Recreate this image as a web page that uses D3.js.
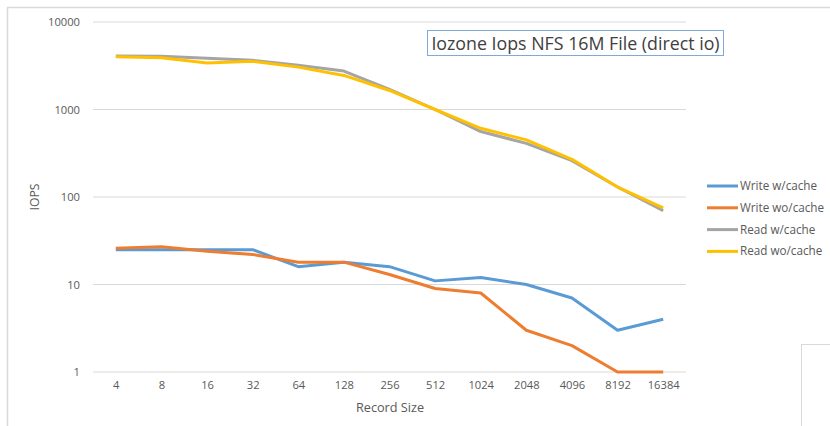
<!DOCTYPE html>
<html><head><meta charset="utf-8">
<script src="https://cdn.jsdelivr.net/npm/d3@7"></script>
<style>body{margin:0;background:#fff;} svg{display:block;font-family:"Open Sans",Lato,sans-serif;}</style>
</head><body>
<svg id="c" width="830" height="426"></svg>
<script>
const categories = ["4","8","16","32","64","128","256","512","1024","2048","4096","8192","16384"];
const writeWithCache = [25,25,25,25,16,18,16,11,12,10,7,3,4];
const writeWithoutCache = [26,27,24,22,18,18,13,9,8,3,2,1,1];
const readWithCache = [4100,4050,3850,3650,3200,2750,1700,1000,560,410,260,130,70];
const readWithoutCache = [4000,3900,3400,3550,3050,2450,1650,1000,610,450,270,130,75];
const yTicks = [1,10,100,1000,10000];
const seriesNames = ["Write w/cache","Write wo/cache","Read w/cache","Read wo/cache"];
const seriesColors = ["#5b9bd5","#ed7d31","#a5a5a5","#ffc000"];
const title = "Iozone Iops NFS 16M File (direct io)";

const series = [writeWithCache, writeWithoutCache, readWithCache, readWithoutCache];
const svg = d3.select("#c");
const FONT = "'Open Sans',Lato,sans-serif";

// outer chart frame
svg.append("rect").attr("x",7.5).attr("y",7.5).attr("width",840).attr("height",440)
  .attr("fill","none").attr("stroke","#d9d9d9").attr("stroke-width",1.5);
// partial box at bottom right
svg.append("rect").attr("x",801.5).attr("y",344.5).attr("width",60).attr("height",100)
  .attr("fill","none").attr("stroke","#d9d9d9").attr("stroke-width",1);

const x = d3.scalePoint().domain(categories).range([93,686]).padding(0.5);
const y = d3.scaleLog().domain([1,10000]).range([372,22]);

// gridlines
svg.append("g").selectAll("line").data(yTicks).join("line")
  .attr("x1",93).attr("x2",686).attr("y1",d=>y(d)).attr("y2",d=>y(d))
  .attr("stroke","#d9d9d9").attr("stroke-width",1);

// y axis labels
const yAxis = d3.axisLeft(y).tickValues(yTicks).tickFormat(d3.format("d")).tickSize(0).tickPadding(0);
const ya = svg.append("g").attr("transform","translate(80,0)").call(yAxis);
ya.select(".domain").remove();
ya.selectAll("text").attr("fill","#595959").attr("font-size",11.2).attr("font-family",FONT);

// x axis labels
const xAxis = d3.axisBottom(x).tickSize(0).tickPadding(0);
const xa = svg.append("g").attr("transform","translate(0,381)").call(xAxis);
xa.select(".domain").remove();
xa.selectAll("text").attr("fill","#595959").attr("font-size",11.2).attr("font-family",FONT);

// axis titles
svg.append("text").attr("x",390).attr("y",412).attr("text-anchor","middle")
  .attr("fill","#595959").attr("font-size",12.7).text("Record Size");
svg.append("text").attr("transform","translate(39,197) rotate(-90)").attr("text-anchor","middle")
  .attr("fill","#595959").attr("font-size",12.2).text("IOPS");

// lines
const line = d3.line().x((d,i)=>x(categories[i])).y(d=>y(d));
series.forEach((s,k)=>{
  svg.append("path").datum(s).attr("d",line).attr("fill","none")
    .attr("stroke",seriesColors[k]).attr("stroke-width",3).attr("stroke-linejoin","round");
});

// title box
svg.append("rect").attr("x",427.5).attr("y",30.5).attr("width",296).attr("height",25)
  .attr("fill","#fff").attr("stroke","#7fa9d6").attr("stroke-width",1);
svg.append("text").attr("x",575.5).attr("y",49.5).attr("text-anchor","middle")
  .attr("fill","#404040").attr("font-size",17.8).text(title);

// legend
const lg = svg.append("g");
seriesNames.forEach((n,k)=>{
  const yy = 186 + k*21.8;
  lg.append("line").attr("x1",707).attr("x2",738).attr("y1",yy).attr("y2",yy)
    .attr("stroke",seriesColors[k]).attr("stroke-width",3);
  lg.append("text").attr("x",740).attr("y",yy+4).attr("fill","#595959").attr("font-size",11.7).text(n);
});
</script>
</body></html>
